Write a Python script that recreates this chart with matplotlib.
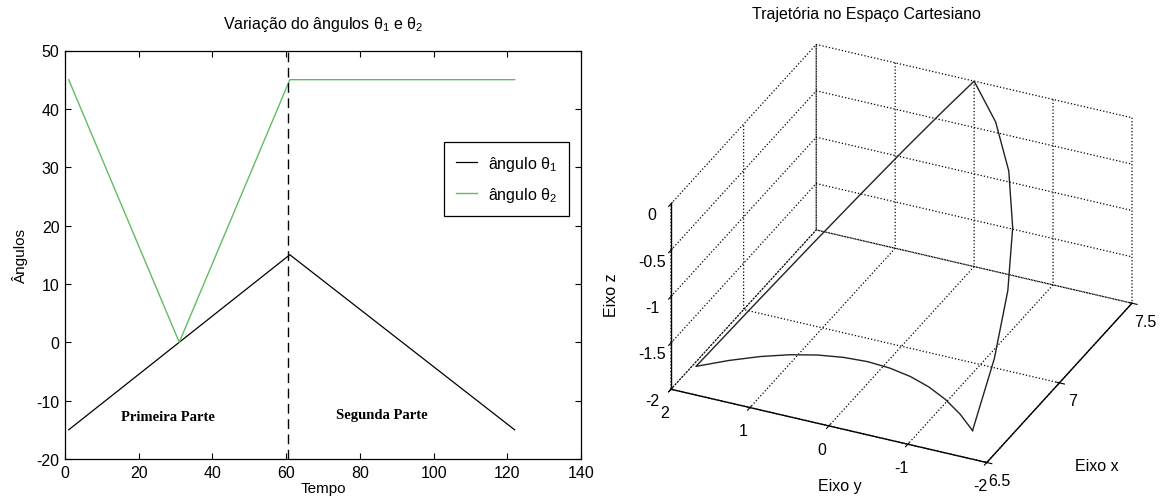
import warnings
import numpy as np
import matplotlib
matplotlib.use("Agg")
import matplotlib.pyplot as plt
from mpl_toolkits.mplot3d import proj3d

# ---------------- data ----------------
# left chart: joint angles vs time (vertices of the piecewise-linear curves)
t_theta1 = [1, 61, 122]
theta1 = [-15, 15, -15]
t_theta2 = [1, 31, 61, 122]
theta2 = [45, 0, 45, 45]
t_split = 60.5

x_ticks = [0, 20, 40, 60, 80, 100, 120, 140]
y_ticks = [-20, -10, 0, 10, 20, 30, 40, 50]

# right chart: cartesian trajectory
traj_x = [6.537, 6.818, 7.056, 7.247, 7.387, 7.471, 7.500, 7.471, 7.387, 7.247,
          7.056, 6.818, 6.537, 6.607, 6.665, 6.710, 6.742, 6.761, 6.768, 6.761,
          6.742, 6.710, 6.665, 6.607, 6.537]
traj_y = [-1.752, -1.511, -1.244, -0.954, -0.647, -0.326, 0.000, 0.326, 0.647, 0.954,
          1.244, 1.511, 1.752, 1.465, 1.175, 0.883, 0.590, 0.295, 0.000, -0.295,
          -0.590, -0.883, -1.175, -1.465, -1.752]
traj_z = [-1.768, -1.522, -1.250, -0.957, -0.647, -0.326, 0.000, -0.326, -0.647, -0.957,
          -1.250, -1.522, -1.768, -1.768, -1.768, -1.768, -1.768, -1.768, -1.768, -1.768,
          -1.768, -1.768, -1.768, -1.768, -1.768]

x3_ticks = [6.5, 7, 7.5]
x3_labels = ['6.5', '7', '7.5']
y3_ticks = [-2, -1, 0, 1, 2]
y3_labels = ['-2', '-1', '0', '1', '2']
z3_ticks = [-2, -1.5, -1, -0.5, 0]
z3_labels = ['-2', '-1.5', '-1', '-0.5', '0']

# ---------------- style ----------------
FAM = ['Liberation Sans', 'DejaVu Sans']
plt.rcParams['font.family'] = FAM
plt.rcParams['font.size'] = 11
plt.rcParams['axes.unicode_minus'] = False
plt.rcParams['mathtext.fontset'] = 'custom'
plt.rcParams['mathtext.rm'] = 'Liberation Sans'
plt.rcParams['mathtext.it'] = 'Liberation Sans'
plt.rcParams['mathtext.default'] = 'regular'
plt.rcParams['grid.linestyle'] = ':'
plt.rcParams['grid.color'] = 'black'
plt.rcParams['grid.linewidth'] = 0.9
plt.rcParams['axes.linewidth'] = 0.9

W, H = 1167, 502
fig = plt.figure(figsize=(W / 100, H / 100), dpi=100)

# ---------------- left plot ----------------
ax = fig.add_axes([65 / W, 1 - 460 / H, (581 - 65) / W, (460 - 51.5) / H])
GREEN = '#62bb62'
ax.plot(t_theta1, theta1, color='black', lw=0.9, label='ângulo θ$_1$')
ax.plot(t_theta2, theta2, color=GREEN, lw=1.0, label='ângulo θ$_2$')
ax.axvline(t_split, color='black', lw=1.0, ls=(0, (7, 4)))
ax.set_xlim(0, 140)
ax.set_ylim(-20, 50)
ax.set_xticks(x_ticks)
ax.set_yticks(y_ticks)
ax.tick_params(direction='in', length=4.5, top=True, right=True, labelsize=11.5, pad=4)
ax.set_title('Variação do ângulos θ$_1$ e θ$_2$', fontsize=11.5, pad=16)
ax.set_xlabel('Tempo', fontsize=11, labelpad=1)
ax.set_ylabel('Ângulos', fontsize=11, labelpad=6)
ax.text(15.3, -12.8, 'Primeira Parte', family='Liberation Serif', weight='bold',
        fontsize=10.5, ha='left', va='center')
ax.text(73.4, -12.3, 'Segunda Parte', family='Liberation Serif', weight='bold',
        fontsize=10.5, ha='left', va='center')
leg = ax.legend(loc='upper right', bbox_to_anchor=((569 - 65) / 516, (460 - 143) / 408.5),
                borderaxespad=0, fancybox=False, edgecolor='black', framealpha=1,
                handlelength=1.3, handletextpad=0.7, fontsize=11.5, borderpad=0.75,
                labelspacing=0.75)
leg.get_frame().set_linewidth(0.9)

# ---------------- right 3D plot ----------------
ax3 = fig.add_axes([0.55, 0.0, 0.4, 0.4 * W / H], projection='3d', proj_type='ortho')
ax3.set_box_aspect((1, 1, 0.618))
ax3.view_init(elev=30.3, azim=-155.3)
ax3.plot(traj_x, traj_y, traj_z, color='#222222', lw=1.0)
ax3.set_xlim(6.5, 7.5, view_margin=0)
ax3.set_ylim(-2, 2, view_margin=0)
ax3.set_zlim(-2, 0, view_margin=0)
ax3.set_xticks(x3_ticks, x3_labels)
ax3.set_yticks(y3_ticks, y3_labels)
ax3.set_zticks(z3_ticks, z3_labels)
ax3.tick_params(labelsize=11.5)
ax3.xaxis.set_tick_params(pad=0)
ax3.yaxis.set_tick_params(pad=1)
ax3.zaxis.set_tick_params(pad=0)
ax3.patch.set_alpha(0)
for a in (ax3.xaxis, ax3.yaxis, ax3.zaxis):
    a.set_pane_color((1, 1, 1, 0))
    a.pane.set_edgecolor((1, 1, 1, 0))
    a.line.set_color('black')
    a.line.set_linewidth(1.0)
ax3.grid(True)
fig.text(866 / W, 1 - 15 / H, 'Trajetória no Espaço Cartesiano', fontsize=11.5,
         ha='center', va='center')
fig.text(840 / W, 1 - 487 / H, 'Eixo y', fontsize=11.5, ha='center', va='center')
fig.text(1097 / W, 1 - 467 / H, 'Eixo x', fontsize=11.5, ha='center', va='center')
fig.text(612 / W, 1 - 295 / H, 'Eixo z', fontsize=11.5, ha='center', va='center',
         rotation=90)

# fit the projected box onto the target region (layout only)
T_x0, T_x1 = 671, 1132
T_y0, T_y1 = H - 463, H - 46


def proj_bbox():
    cx, cy, cz = np.meshgrid(ax3.get_xlim(), ax3.get_ylim(), ax3.get_zlim())
    with warnings.catch_warnings():
        warnings.simplefilter('ignore')
        px, py, _ = proj3d.proj_transform(cx.ravel(), cy.ravel(), cz.ravel(), ax3.get_proj())
    d = ax3.transData.transform(np.column_stack([px, py]))
    return d[:, 0].min(), d[:, 0].max(), d[:, 1].min(), d[:, 1].max()


for _ in range(2):
    fig.canvas.draw()
    pos = ax3.get_position()
    S = pos.width * W
    cxa = (pos.x0 + pos.width / 2) * W
    cya = (pos.y0 + pos.height / 2) * H
    bx0, bx1, by0, by1 = proj_bbox()
    s = (T_x1 - T_x0) / (bx1 - bx0)
    dx = (bx0 + bx1) / 2 - cxa
    dy = (by0 + by1) / 2 - cya
    nS = S * s
    ncx = (T_x0 + T_x1) / 2 - dx * s
    ncy = (T_y0 + T_y1) / 2 - dy * s
    ax3.set_position([(ncx - nS / 2) / W, (ncy - nS / 2) / H, nS / W, nS / H])

fig.savefig('out.png', dpi=100)
